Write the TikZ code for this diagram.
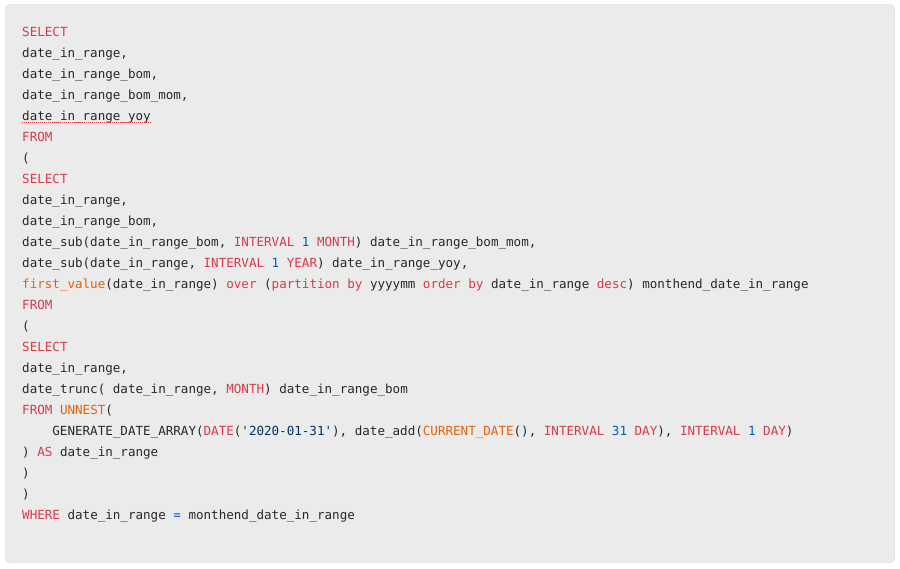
\documentclass[tikz,border=0pt]{standalone}
\usepackage{fontspec}
\setmonofont{DejaVu Sans Mono}
\usepackage{tikz}
\usetikzlibrary{positioning}

\definecolor{codebg}{HTML}{EBEBEB}
\definecolor{codeframe}{HTML}{D3D3D3}
\definecolor{plaintext}{HTML}{24292E}
\definecolor{keyword}{HTML}{D73A49}
\definecolor{funcname}{HTML}{E36209}
\definecolor{numlit}{HTML}{005CC5}
\definecolor{strlit}{HTML}{032F62}
\definecolor{spellmark}{HTML}{E0393E}
\newcommand{\codekw}[1]{\textcolor{keyword}{#1}}
\newcommand{\codefn}[1]{\textcolor{funcname}{#1}}
\newcommand{\codenum}[1]{\textcolor{numlit}{#1}}
\newcommand{\codestr}[1]{\textcolor{strlit}{#1}}

\tikzset{
  codeline/.style={anchor=base west, inner sep=0pt, text=plaintext,
    font=\ttfamily\fontsize{12.56}{21}\selectfont}
}

\begin{document}
\begin{tikzpicture}[x=1pt,y=-1pt]
  \useasboundingbox (0,0) rectangle (900,569);
  \draw[codeframe, fill=codebg, rounded corners=4pt] (5.5,4.5) rectangle (894.5,562.5);
  \node (l1) [codeline] at (22,36.5) {\codekw{SELECT}};
  \node (l2) [codeline] at (22,57.5) {date\_in\_range,};
  \node (l3) [codeline] at (22,78.5) {date\_in\_range\_bom,};
  \node (l4) [codeline] at (22,99.5) {date\_in\_range\_bom\_mom,};
  \node (l5) [codeline] at (22,120.5) {date\_in\_range\_yoy};
  \node (l6) [codeline] at (22,141.5) {\codekw{FROM}};
  \node (l7) [codeline] at (22,162.5) {(};
  \node (l8) [codeline] at (22,183.5) {\codekw{SELECT}};
  \node (l9) [codeline] at (22,204.5) {date\_in\_range,};
  \node (l10) [codeline] at (22,225.5) {date\_in\_range\_bom,};
  \node (l11) [codeline] at (22,246.5) {date\_sub(date\_in\_range\_bom, \codekw{INTERVAL} \codenum{1} \codekw{MONTH}) date\_in\_range\_bom\_mom,};
  \node (l12) [codeline] at (22,267.5) {date\_sub(date\_in\_range, \codekw{INTERVAL} \codenum{1} \codekw{YEAR}) date\_in\_range\_yoy,};
  \node (l13) [codeline] at (22,288.5) {\codefn{first\_value}(date\_in\_range) \codekw{over} (\codekw{partition} \codekw{by} yyyymm \codekw{order} \codekw{by} date\_in\_range \codekw{desc}) monthend\_date\_in\_range};
  \node (l14) [codeline] at (22,309.5) {\codekw{FROM}};
  \node (l15) [codeline] at (22,330.5) {(};
  \node (l16) [codeline] at (22,351.5) {\codekw{SELECT}};
  \node (l17) [codeline] at (22,372.5) {date\_in\_range,};
  \node (l18) [codeline] at (22,393.5) {date\_trunc( date\_in\_range, \codekw{MONTH}) date\_in\_range\_bom};
  \node (l19) [codeline] at (22,414.5) {\codekw{FROM} \codefn{UNNEST}(};
  \node (l20) [codeline] at (52.2,435.5) {GENERATE\_DATE\_ARRAY(\codekw{DATE}(\codestr{'2020-01-31'}), date\_add(\codefn{CURRENT\_DATE}(), \codekw{INTERVAL} \codenum{31} \codekw{DAY}), \codekw{INTERVAL} \codenum{1} \codekw{DAY})};
  \node (l21) [codeline] at (22,456.5) {) \codekw{AS} date\_in\_range};
  \node (l22) [codeline] at (22,477.5) {)};
  \node (l23) [codeline] at (22,498.5) {)};
  \node (l24) [codeline] at (22,519.5) {\codekw{WHERE} date\_in\_range \codenum{=} monthend\_date\_in\_range};
  \draw[spellmark, line width=1.1pt, dash pattern=on 1pt off 1pt]
    ([yshift=-1.6pt]l5.base west) -- ([yshift=-1.6pt]l5.base east);
\end{tikzpicture}
\end{document}
